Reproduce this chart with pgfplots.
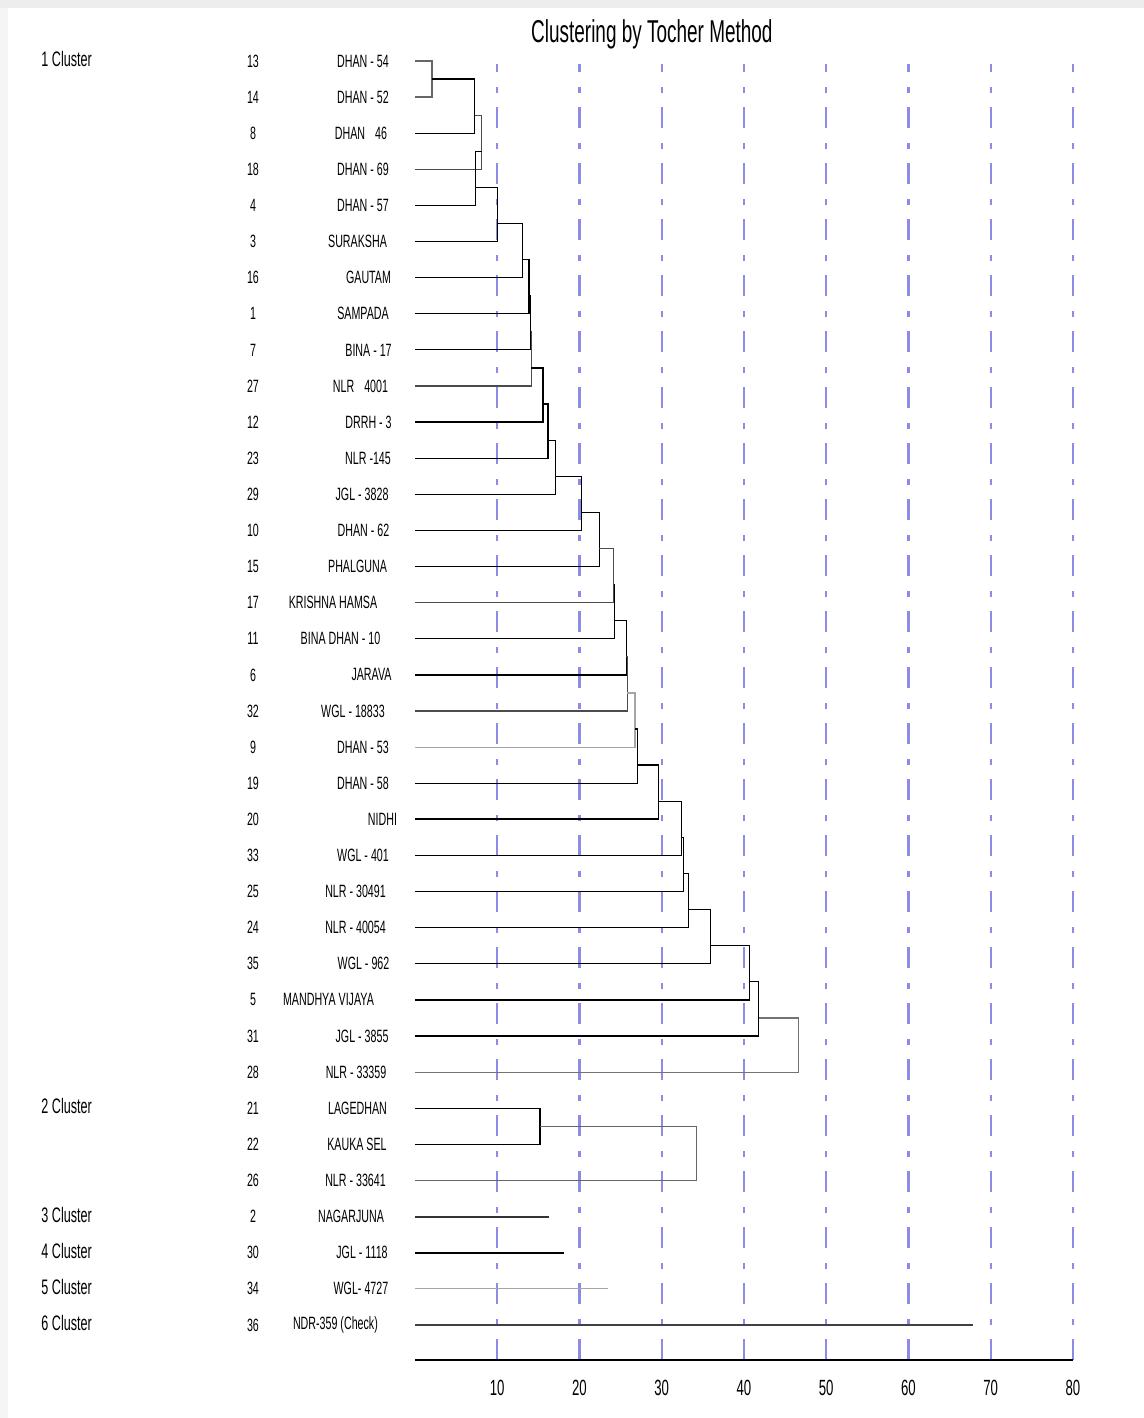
\documentclass[border=0pt]{standalone}
\usepackage{pgfplots}
\pgfplotsset{compat=1.18}
\usepackage{fontspec}
\setmainfont{Liberation Sans}[FakeStretch=0.6]

\definecolor{gridblue}{RGB}{140,140,230}

\begin{document}
\begin{tikzpicture}[
    lbl/.style={font=\fontsize{8.9}{10}\selectfont, inner sep=0pt, anchor=center},
    clu/.style={font=\fontsize{10.5}{12}\selectfont, inner sep=0pt, anchor=west},
    seg/.style={black, line width=0.6pt},
  ]
  \useasboundingbox (0,0) rectangle (572pt,709pt);
  % screenshot edge
  \fill[black!7] (0,705pt) rectangle (572pt,709pt);
  \fill[black!4] (0,0) rectangle (4pt,705pt);

  \begin{axis}[
      at={(207.5pt,29pt)}, anchor=south west,
      scale only axis, width=329pt, height=648pt,
      xmin=0, xmax=80, ymin=-36.97, ymax=-1.083,
      axis x line*=bottom, axis y line=none,
      x axis line style={-, line width=1.4pt},
      xtick={10,20,...,80}, ytick=\empty,
      major tick length=0pt,
      xmajorgrids,
      major grid style={gridblue, line width=1.1pt,
        dash pattern=on 10.25pt off 7pt on 3.25pt off 7.5pt},
      xticklabel style={font=\fontsize{11}{12}\selectfont, anchor=north,
        inner sep=0pt, yshift=-10pt},
      /pgf/number format/assume math mode=true,
      clip=false,
    ]
    % cluster 1 (rows 1-29): each new member joins the chain
    \addplot[seg, black!60] coordinates {(0,-1) (2.07,-1) (2.07,-2) (0,-2)};
    \addplot[seg] coordinates {(2.07,-1.5) (7.26,-1.5) (7.26,-3) (0,-3)};
    \addplot[seg, black!70] coordinates {(7.26,-2.5) (8.10,-2.5) (8.10,-4) (0,-4)};
    \addplot[seg] coordinates {(8.10,-3.5) (7.38,-3.5) (7.38,-5) (0,-5)};
    \addplot[seg] coordinates {(7.38,-4.5) (10.06,-4.5) (10.06,-6) (0,-6)};
    \addplot[seg] coordinates {(10.06,-5.5) (13.06,-5.5) (13.06,-7) (0,-7)};
    \addplot[seg] coordinates {(13.06,-6.5) (13.87,-6.5) (13.87,-8) (0,-8)};
    \addplot[seg] coordinates {(13.87,-7.5) (14.05,-7.5) (14.05,-9) (0,-9)};
    \addplot[seg, black!70] coordinates {(14.05,-8.5) (14.15,-8.5) (14.15,-10) (0,-10)};
    \addplot[seg, line width=0.9pt] coordinates {(14.15,-9.5) (15.53,-9.5) (15.53,-11) (0,-11)};
    \addplot[seg] coordinates {(15.53,-10.5) (16.18,-10.5) (16.18,-12) (0,-12)};
    \addplot[seg] coordinates {(16.18,-11.5) (17.10,-11.5) (17.10,-13) (0,-13)};
    \addplot[seg] coordinates {(17.10,-12.5) (20.27,-12.5) (20.27,-14) (0,-14)};
    \addplot[seg] coordinates {(20.27,-13.5) (22.40,-13.5) (22.40,-15) (0,-15)};
    \addplot[seg, black!70] coordinates {(22.40,-14.5) (24.17,-14.5) (24.17,-16) (0,-16)};
    \addplot[seg] coordinates {(24.17,-15.5) (24.24,-15.5) (24.24,-17) (0,-17)};
    \addplot[seg] coordinates {(24.24,-16.5) (25.67,-16.5) (25.67,-18) (0,-18)};
    \addplot[seg, black!70] coordinates {(25.67,-17.5) (25.80,-17.5) (25.80,-19) (0,-19)};
    \addplot[seg, black!35] coordinates {(25.80,-18.5) (26.76,-18.5) (26.76,-20) (0,-20)};
    \addplot[seg] coordinates {(26.76,-19.5) (27.05,-19.5) (27.05,-21) (0,-21)};
    \addplot[seg, line width=0.9pt] coordinates {(27.05,-20.5) (29.60,-20.5) (29.60,-22) (0,-22)};
    \addplot[seg] coordinates {(29.60,-21.5) (32.44,-21.5) (32.44,-23) (0,-23)};
    \addplot[seg] coordinates {(32.44,-22.5) (32.64,-22.5) (32.64,-24) (0,-24)};
    \addplot[seg] coordinates {(32.64,-23.5) (33.30,-23.5) (33.30,-25) (0,-25)};
    \addplot[seg] coordinates {(33.30,-24.5) (35.97,-24.5) (35.97,-26) (0,-26)};
    \addplot[seg] coordinates {(35.97,-25.5) (40.67,-25.5) (40.67,-27) (0,-27)};
    \addplot[seg] coordinates {(40.67,-26.5) (41.80,-26.5) (41.80,-28) (0,-28)};
    \addplot[seg, black!55] coordinates {(41.80,-27.5) (46.67,-27.5) (46.67,-29) (0,-29)};
    % cluster 2
    \addplot[seg] coordinates {(0,-30) (15.2,-30) (15.2,-31) (0,-31)};
    \addplot[seg, black!60] coordinates {(15.2,-30.5) (34.2,-30.5) (34.2,-32) (0,-32)};
    % clusters 3-6 (single members)
    \addplot[seg, line width=0.9pt, black!80] coordinates {(0,-33) (16.3,-33)};
    \addplot[seg, line width=1.1pt] coordinates {(0,-34) (18.1,-34)};
    \addplot[seg, black!35] coordinates {(0,-35) (23.5,-35)};
    \addplot[seg, black!75] coordinates {(0,-36) (67.8,-36)};

    % title
    \node[font=\fontsize{15.8}{17}\selectfont, inner sep=0pt]
      at (axis cs:28.8,-0.25) {Clustering by Tocher Method};

    % genotype numbers and names
    \foreach \r/\num/\name/\xc in {
        1/13/DHAN - 54/-6.32, 2/14/DHAN - 52/-6.32, 3/8/DHAN\kern5pt 46/-6.57,
        4/18/DHAN - 69/-6.32, 5/4/DHAN - 57/-6.32, 6/3/SURAKSHA/-6.99,
        7/16/GAUTAM/-5.65, 8/1/SAMPADA/-6.32, 9/7/BINA - 17/-5.65,
        10/27/NLR\kern5pt 4001/-6.63, 11/12/DRRH - 3/-5.65, 12/23/NLR -145/-5.71,
        13/29/JGL - 3828/-6.44, 14/10/DHAN - 62/-6.26, 15/15/PHALGUNA/-6.99,
        16/17/KRISHNA HAMSA/-9.97, 17/11/BINA DHAN - 10/-9.06, 18/6/JARAVA/-5.29,
        19/32/WGL - 18833/-7.54, 20/9/DHAN - 53/-6.32, 21/19/DHAN - 58/-6.32,
        22/20/NIDHI/-3.95, 23/33/WGL - 401/-6.32, 24/25/NLR - 30491/-7.23,
        25/24/NLR - 40054/-7.23, 26/35/WGL - 962/-6.26, 27/5/MANDHYA VIJAYA/-10.52,
        28/31/JGL - 3855/-6.44, 29/28/NLR - 33359/-7.17, 30/21/LAGEDHAN/-6.99,
        31/22/KAUKA SEL/-7.05, 32/26/NLR - 33641/-7.23, 33/2/NAGARJUNA/-7.78,
        34/30/JGL - 1118/-6.44, 35/34/WGL- 4727/-6.57, 36/36/NDR-359 (Check)/-9.67} {
      \edef\tmp{\noexpand\node[lbl] at (axis cs:\xc,-\r) {\name};
        \noexpand\node[lbl] at (axis cs:-19.7,-\r) {\num};}
      \tmp
    }

    % cluster headings
    \foreach \r/\c in {1/1, 30/2, 33/3, 34/4, 35/5, 36/6} {
      \edef\tmp{\noexpand\node[clu] at (axis cs:-45.47,-\r+0.05) {\c\space Cluster};}
      \tmp
    }
  \end{axis}
\end{tikzpicture}
\end{document}
